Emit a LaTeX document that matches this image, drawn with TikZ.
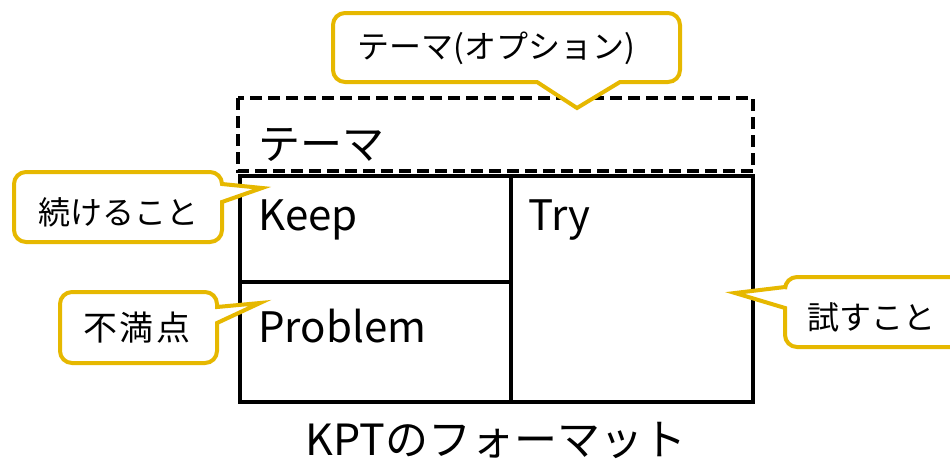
\documentclass[tikz,border=0pt]{standalone}
\usepackage{fontspec}
\setmainfont{Noto Sans CJK JP}
\definecolor{calloutyellow}{HTML}{E6B800}
\tikzset{
  callout/.style={draw=calloutyellow, line width=4pt, fill=white, line join=miter, miter limit=10},
  frame/.style={draw=black, line width=4.5pt},
  dashframe/.style={draw=black, line width=4.5pt, dash pattern=on 12pt off 6pt},
  bigtext/.style={inner sep=0pt, anchor=west, font=\fontsize{42}{48}\selectfont},
  calltext/.style={inner sep=0pt, font=\fontsize{32}{38}\selectfont},
}
\begin{document}
\begin{tikzpicture}[x=1pt,y=-1pt]
\useasboundingbox[fill=white] (0,0) rectangle (950,461);
% theme box
\draw[dashframe] (238,98) rectangle (753,171);
% grid
\coordinate (gTL) at (240,176);
\coordinate (gBR) at (753,402);
\draw[frame] (gTL) rectangle (gBR);
\draw[frame] (511,176) -- (511,402);
\draw[frame] (240,282) -- (511,282);
% texts
\node[bigtext] (theme) at (258,145) {テーマ};
\node[bigtext] (keep) at (258,220) {Keep};
\node[bigtext] (try) at (528,220) {Try};
\node[bigtext] (problem) at (258,326) {Problem};
\node[inner sep=0pt, font=\fontsize{43}{48}\selectfont] (caption) at (496,440) {KPTのフォーマット};
% top callout
\draw[callout] (577,108) -- (537,82) [rounded corners=12] -- (333,82) -- (333,13) -- (680,13) -- (680,82) [sharp corners] -- (620,82) -- cycle;
\node[calltext] (themeopt) at (496,48) {テーマ(オプション)};
% keep callout
\draw[callout] (262,188) -- (222,202) [rounded corners=12] -- (222,242) -- (14,242) -- (14,172) -- (222,172) [sharp corners] -- (222,184) -- cycle;
\node[calltext] (keepnote) at (118,212) {続けること};
% problem callout
\draw[callout] (260,303) -- (217,323) [rounded corners=12] -- (217,363) -- (60,363) -- (60,292) -- (217,292) [sharp corners] -- (217,307) -- cycle;
\node[calltext, font=\fontsize{34}{40}\selectfont] (probnote) at (137,328) {不\hspace{3pt}満\hspace{3pt}点};
% try callout
\draw[callout] (735,293) -- (785,308) [rounded corners=12] -- (785,347) -- (970,347) -- (970,277) -- (785,277) [sharp corners] -- (785,287) -- cycle;
\node[calltext] (trynote) at (871,317) {試すこと};
\end{tikzpicture}
\end{document}
